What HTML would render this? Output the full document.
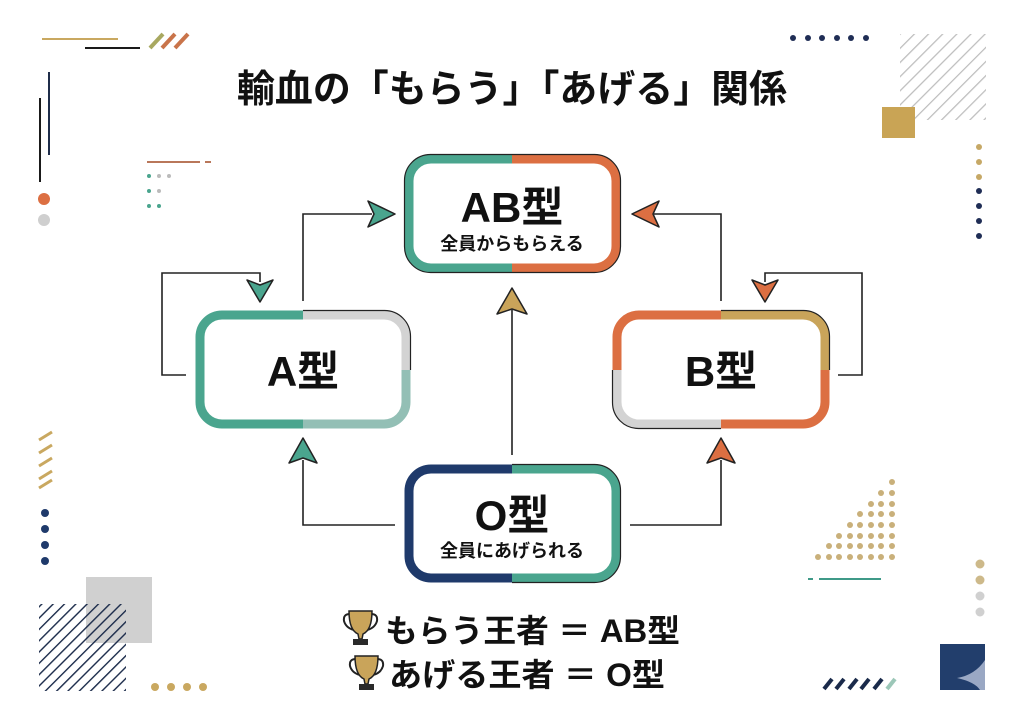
<!DOCTYPE html>
<html><head><meta charset="utf-8"><style>
html,body{margin:0;padding:0;background:#fff;}
svg{display:block}
text{font-family:"Liberation Sans","Noto Sans CJK JP",sans-serif;font-weight:bold;fill:#111}
</style></head><body>
<svg width="1024" height="728" viewBox="0 0 1024 728" xmlns="http://www.w3.org/2000/svg">
<defs>
<pattern id="hg" width="10" height="10" patternUnits="userSpaceOnUse" patternTransform="rotate(45)"><line x1="0" y1="0" x2="0" y2="10" stroke="#bdbdbd" stroke-width="2.5"/></pattern>
<pattern id="hn" width="8" height="8" patternUnits="userSpaceOnUse" patternTransform="rotate(45)"><line x1="0" y1="0" x2="0" y2="8" stroke="#1a2a4a" stroke-width="2.8"/></pattern>
</defs>
<rect width="1024" height="728" fill="#fff"/>

<line x1="42" y1="39" x2="118" y2="39" stroke="#c9a860" stroke-width="2"/>
<line x1="85" y1="48" x2="140" y2="48" stroke="#1a1a1a" stroke-width="2"/>
<g stroke-width="4"><line x1="150" y1="48" x2="163" y2="34" stroke="#a8a860"/><line x1="162" y1="48" x2="175" y2="34" stroke="#c9744a"/><line x1="175" y1="48" x2="188" y2="34" stroke="#c9744a"/></g>
<line x1="49" y1="72" x2="49" y2="155" stroke="#1f2d4a" stroke-width="2"/>
<line x1="40" y1="98" x2="40" y2="182" stroke="#1a1a1a" stroke-width="2"/>
<circle cx="44" cy="199" r="6" fill="#dc6f42"/>
<circle cx="44" cy="220" r="6" fill="#cfcfcf"/>
<line x1="147" y1="162" x2="200" y2="162" stroke="#b9775a" stroke-width="2"/>
<line x1="205" y1="162" x2="211" y2="162" stroke="#b9775a" stroke-width="2"/>
<g fill="#4aa58e"><circle cx="149" cy="176" r="2"/><circle cx="149" cy="191" r="2"/><circle cx="149" cy="206" r="2"/><circle cx="159" cy="206" r="2"/></g>
<g fill="#bbb"><circle cx="159" cy="176" r="2"/><circle cx="169" cy="176" r="2"/><circle cx="159" cy="191" r="2"/></g>

<g fill="#1f2d55"><circle cx="793" cy="38" r="3"/><circle cx="808" cy="38" r="3"/><circle cx="822" cy="38" r="3"/><circle cx="837" cy="38" r="3"/><circle cx="851" cy="38" r="3"/><circle cx="866" cy="38" r="3"/></g>
<rect x="900" y="34" width="86" height="86" fill="url(#hg)"/>
<rect x="882" y="107" width="33" height="31" fill="#c9a455"/>
<g fill="#c6a866"><circle cx="979" cy="147" r="3"/><circle cx="979" cy="162" r="3"/><circle cx="979" cy="177" r="3"/></g>
<g fill="#1f2d55"><circle cx="979" cy="191" r="3"/><circle cx="979" cy="206" r="3"/><circle cx="979" cy="221" r="3"/><circle cx="979" cy="236" r="3"/></g>

<g stroke="#c9a860" stroke-width="3"><line x1="39" y1="440" x2="52" y2="432"/><line x1="39" y1="453" x2="52" y2="445"/><line x1="39" y1="466" x2="52" y2="458"/><line x1="39" y1="479" x2="52" y2="471"/><line x1="39" y1="488" x2="52" y2="480"/></g>
<g fill="#1f3a6b"><circle cx="45" cy="513" r="4"/><circle cx="45" cy="529" r="4"/><circle cx="45" cy="545" r="4"/><circle cx="45" cy="561" r="4"/></g>
<rect x="86" y="577" width="66" height="66" fill="#d0d0d0"/>
<rect x="39" y="604" width="87" height="87" fill="url(#hn)"/>
<g fill="#c9a860"><circle cx="155" cy="687" r="4"/><circle cx="171" cy="687" r="4"/><circle cx="187" cy="687" r="4"/><circle cx="203" cy="687" r="4"/></g>

<g fill="#c9b07a">
<circle cx="892" cy="482" r="3"/>
<circle cx="881" cy="493" r="3"/><circle cx="892" cy="493" r="3"/>
<circle cx="871" cy="504" r="3"/><circle cx="881" cy="504" r="3"/><circle cx="892" cy="504" r="3"/>
<circle cx="860" cy="514" r="3"/><circle cx="871" cy="514" r="3"/><circle cx="881" cy="514" r="3"/><circle cx="892" cy="514" r="3"/>
<circle cx="850" cy="525" r="3"/><circle cx="860" cy="525" r="3"/><circle cx="871" cy="525" r="3"/><circle cx="881" cy="525" r="3"/><circle cx="892" cy="525" r="3"/>
<circle cx="839" cy="536" r="3"/><circle cx="850" cy="536" r="3"/><circle cx="860" cy="536" r="3"/><circle cx="871" cy="536" r="3"/><circle cx="881" cy="536" r="3"/><circle cx="892" cy="536" r="3"/>
<circle cx="829" cy="546" r="3"/><circle cx="839" cy="546" r="3"/><circle cx="850" cy="546" r="3"/><circle cx="860" cy="546" r="3"/><circle cx="871" cy="546" r="3"/><circle cx="881" cy="546" r="3"/><circle cx="892" cy="546" r="3"/>
<circle cx="818" cy="557" r="3"/><circle cx="829" cy="557" r="3"/><circle cx="839" cy="557" r="3"/><circle cx="850" cy="557" r="3"/><circle cx="860" cy="557" r="3"/><circle cx="871" cy="557" r="3"/><circle cx="881" cy="557" r="3"/><circle cx="892" cy="557" r="3"/>
</g>
<line x1="808" y1="579" x2="813" y2="579" stroke="#3f9a88" stroke-width="2"/>
<line x1="819" y1="579" x2="881" y2="579" stroke="#3f9a88" stroke-width="2"/>
<g><circle cx="980" cy="564" r="4.5" fill="#cdb98a"/><circle cx="980" cy="580" r="4.5" fill="#cdb98a"/><circle cx="980" cy="596" r="4.5" fill="#d0d0d0"/><circle cx="980" cy="612" r="4.5" fill="#d0d0d0"/></g>
<g stroke-width="4"><line x1="824" y1="689" x2="832" y2="679" stroke="#1a2a4a"/><line x1="836" y1="689" x2="844" y2="679" stroke="#1a2a4a"/><line x1="849" y1="689" x2="857" y2="679" stroke="#1a2a4a"/><line x1="861" y1="689" x2="869" y2="679" stroke="#1a2a4a"/><line x1="874" y1="689" x2="882" y2="679" stroke="#1a2a4a"/><line x1="887" y1="689" x2="895" y2="679" stroke="#9cc7b8"/></g>
<rect x="940" y="644" width="45" height="46" fill="#223e6c"/>
<path d="M985 660 Q975 675 957 678 Q975 682 980 690 L985 690 Z" fill="#9aa8c4"/>

<text x="512" y="102" text-anchor="middle" font-size="38" textLength="550" lengthAdjust="spacingAndGlyphs">輸血の「もらう」「あげる」関係</text>

<g fill="none" stroke="#222" stroke-width="1.6">
<polyline points="303,301 303,214 372,214"/>
<polyline points="186,375 162,375 162,273 260,273 260,282"/>
<polyline points="395,525 303,525 303,460"/>
<polyline points="512,455 512,310"/>
<polyline points="721,301 721,214 654,214"/>
<polyline points="838,375 862,375 862,273 765,273 765,282"/>
<polyline points="630,525 721,525 721,460"/>
</g>
<g stroke="#222" stroke-width="1.5" stroke-linejoin="round">
<polygon points="395,214 368,201 374,214 368,227" fill="#4aa58e"/>
<polygon points="260,302 247,280 260,285 273,280" fill="#4aa58e"/>
<polygon points="303,438 317,463 303,458 289,463" fill="#4aa58e"/>
<polygon points="512,288 527,314 512,309 497,314" fill="#c9a45a"/>
<polygon points="632,214 659,201 653,214 659,227" fill="#dc6f42"/>
<polygon points="765,302 752,280 765,285 778,280" fill="#dc6f42"/>
<polygon points="721,438 735,463 721,458 707,463" fill="#dc6f42"/>
</g>

<defs>
<clipPath id="abTL"><rect x="395" y="145" width="117" height="68"/></clipPath>
<clipPath id="abTR"><rect x="512" y="145" width="120" height="68"/></clipPath>
<clipPath id="abB1"><rect x="395" y="213" width="117" height="70"/></clipPath>
<clipPath id="abB2"><rect x="512" y="213" width="120" height="70"/></clipPath>
<clipPath id="aTL"><rect x="186" y="300" width="117" height="70"/></clipPath>
<clipPath id="aTR"><rect x="303" y="300" width="120" height="70"/></clipPath>
<clipPath id="aBL"><rect x="186" y="370" width="117" height="70"/></clipPath>
<clipPath id="aBR"><rect x="303" y="370" width="120" height="70"/></clipPath>
<clipPath id="bTL"><rect x="603" y="300" width="118" height="70"/></clipPath>
<clipPath id="bTR"><rect x="721" y="300" width="120" height="70"/></clipPath>
<clipPath id="bBL"><rect x="603" y="370" width="118" height="70"/></clipPath>
<clipPath id="bBR"><rect x="721" y="370" width="120" height="70"/></clipPath>
<clipPath id="oL"><rect x="395" y="455" width="117" height="140"/></clipPath>
<clipPath id="oR"><rect x="512" y="455" width="120" height="140"/></clipPath>
</defs>
<g fill="#fff" stroke-width="9">
<rect x="409" y="159" width="207" height="109" rx="22" stroke="#4aa58e" clip-path="url(#abTL)"/>
<rect x="409" y="159" width="207" height="109" rx="22" stroke="#dc6f42" clip-path="url(#abTR)"/>
<rect x="409" y="159" width="207" height="109" rx="22" stroke="#4aa58e" clip-path="url(#abB1)"/>
<rect x="409" y="159" width="207" height="109" rx="22" stroke="#dc6f42" clip-path="url(#abB2)"/>
<rect x="200" y="315" width="206" height="109" rx="22" stroke="#4aa58e" clip-path="url(#aTL)"/>
<rect x="200" y="315" width="206" height="109" rx="22" stroke="#d3d3d3" clip-path="url(#aTR)"/>
<rect x="200" y="315" width="206" height="109" rx="22" stroke="#4aa58e" clip-path="url(#aBL)"/>
<rect x="200" y="315" width="206" height="109" rx="22" stroke="#93bfb5" clip-path="url(#aBR)"/>
<rect x="617" y="315" width="208" height="109" rx="22" stroke="#dc6f42" clip-path="url(#bTL)"/>
<rect x="617" y="315" width="208" height="109" rx="22" stroke="#c9a45a" clip-path="url(#bTR)"/>
<rect x="617" y="315" width="208" height="109" rx="22" stroke="#d3d3d3" clip-path="url(#bBL)"/>
<rect x="617" y="315" width="208" height="109" rx="22" stroke="#dc6f42" clip-path="url(#bBR)"/>
<rect x="409" y="469" width="207" height="109" rx="22" stroke="#1f3a6b" clip-path="url(#oL)"/>
<rect x="409" y="469" width="207" height="109" rx="22" stroke="#4aa58e" clip-path="url(#oR)"/>
</g>
<g fill="none" stroke="#222" stroke-width="1.2">
<rect x="404.5" y="154.5" width="216" height="118" rx="26"/>
<rect x="612.5" y="310.5" width="217" height="118" rx="26" clip-path="url(#bTR)"/>
<rect x="612.5" y="310.5" width="217" height="118" rx="26" clip-path="url(#bBL)"/>
<rect x="195.5" y="310.5" width="215" height="118" rx="26" clip-path="url(#aTR)"/>
<rect x="404.5" y="464.5" width="216" height="118" rx="26" clip-path="url(#oR)"/>
</g>

<text x="512" y="222" text-anchor="middle" font-size="42">AB型</text>
<text x="512" y="250" text-anchor="middle" font-size="18">全員からもらえる</text>
<text x="303" y="386" text-anchor="middle" font-size="42">A型</text>
<text x="721" y="386" text-anchor="middle" font-size="42">B型</text>
<text x="512" y="530" text-anchor="middle" font-size="42">O型</text>
<text x="512" y="557" text-anchor="middle" font-size="18">全員にあげられる</text>

<g id="tr" transform="translate(343,610)">
<path d="M7 4 Q0 4 1 11 Q3 18 11 20" fill="none" stroke="#222" stroke-width="2"/>
<path d="M28 4 Q35 4 34 11 Q32 18 24 20" fill="none" stroke="#222" stroke-width="2"/>
<path d="M6 1 H29 Q29 20 20 24 L19 29 H16 L15 24 Q6 20 6 1 Z" fill="#c9a45a" stroke="#222" stroke-width="1.5"/>
<rect x="10" y="29" width="15" height="6" fill="#2a2a2a"/>
</g>
<use href="#tr" transform="translate(6,45)"/>

<text x="385" y="642" font-size="32" textLength="295" lengthAdjust="spacingAndGlyphs">もらう王者 ＝ AB型</text>
<text x="389" y="686" font-size="32" textLength="276" lengthAdjust="spacingAndGlyphs">あげる王者 ＝ O型</text>
</svg>
</body></html>
